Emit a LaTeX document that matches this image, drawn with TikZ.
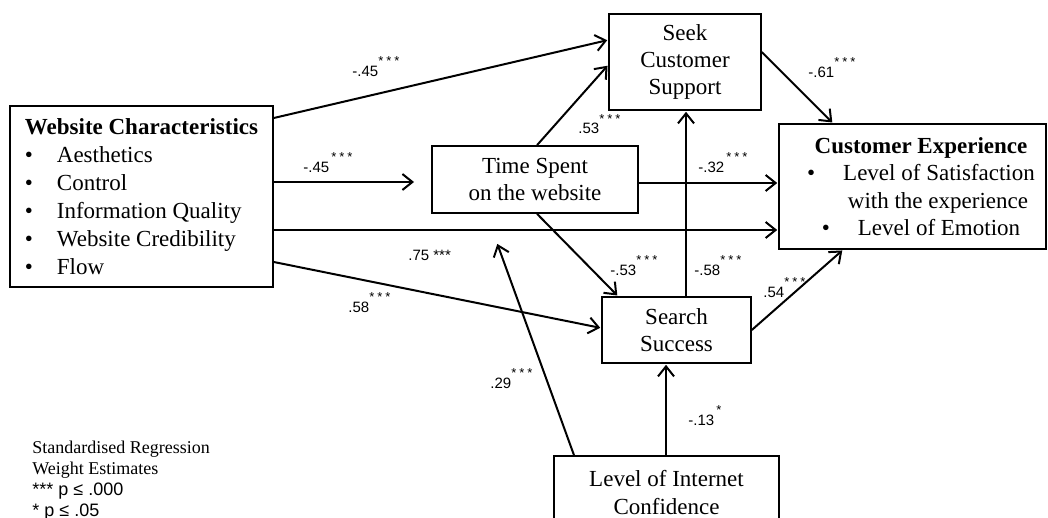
\documentclass[tikz,border=0pt]{standalone}
\usepackage{fontspec}
\setmainfont{Liberation Serif}
\setsansfont{Liberation Sans}
\usetikzlibrary{arrows.meta}
\newcommand{\wt}[3][0pt]{#2\hspace{#1}\raisebox{5.5pt}{\fontsize{6.5pt}{7pt}\selectfont #3}}
\newcommand{\stars}{*\kern1.5pt*\kern1.5pt*}
\begin{document}
\begin{tikzpicture}[x=0.5pt, y=-0.5pt, >={Straight Barb[length=5pt,width=8pt]}]

\tikzstyle{box}=[rectangle, draw, line width=0.8pt, align=center, inner sep=0pt, font=\fontsize{11.5pt}{13.7pt}\selectfont]
\tikzstyle{arrow}=[->, line width=1pt, shorten >=0.5pt]
\tikzstyle{wlab}=[anchor=base west, inner sep=0pt, font=\fontsize{7.5pt}{9pt}\sffamily]

\useasboundingbox (0,0) rectangle (1048,518);

\node (WC) [box, minimum width=131.5pt, minimum height=90.5pt, align=left, font=\fontsize{11.5pt}{14pt}\selectfont] at (141.5,196.5)
{\textbf{Website Characteristics}\\
\makebox[16pt][l]{\textbullet}Aesthetics\\
\makebox[16pt][l]{\textbullet}Control\\
\makebox[16pt][l]{\textbullet}Information Quality\\
\makebox[16pt][l]{\textbullet}Website Credibility\\
\makebox[16pt][l]{\textbullet}Flow};

\node (SCS) [box, minimum width=76pt, minimum height=48pt] at (685,62) {Seek\\Customer\\Support};

\node (CE) [box, minimum width=133.5pt, minimum height=62.5pt] at (912.5,186.5)
{\hspace*{8.5pt}\textbf{Customer Experience}\\
\hspace*{8.5pt}\textbullet\hspace{14pt}Level of Satisfaction\\
\hspace*{25.5pt}with the experience\\
\hspace*{8.5pt}\textbullet\hspace{14pt}Level of Emotion};

\node (TS) [box, minimum width=103pt, minimum height=33.5pt] at (535,179.5) {Time Spent\\on the website};
\node (SS) [box, minimum width=74.5pt, minimum height=33pt] at (676.5,330) {Search\\Success};
\node (IC) [box, minimum width=112.5pt, minimum height=36.5pt] at (666.5,492.5) {Level of Internet\\Confidence};

\coordinate (tsin) at (415,182);
\coordinate (icto) at (497,243);

\draw [arrow] (WC.east |- 0,118) -- (SCS.west |- 0,40);
\draw [arrow] (WC.east |- 0,182) -- (tsin);
\draw [arrow] (TS.north -| 537,0) -- (SCS.west |- 0,65);
\draw [arrow] (SCS.east |- 0,52) -- (CE.north -| 833,0);
\draw [arrow] (TS.east |- 0,183) -- (CE.west |- 0,183);
\draw [arrow] (WC.east |- 0,230) -- (CE.west |- 0,230);
\draw [arrow] (TS.south -| 537,0) -- (SS.north -| 618,0);
\draw [arrow] (SS.north -| 686,0) -- (SCS.south -| 686,0);
\draw [arrow] (WC.east |- 0,262) -- (SS.west |- 0,328);
\draw [arrow] (SS.east |- 0,330) -- (CE.south -| 843,0);
\draw [arrow] (IC.north -| 574,0) -- (icto);
\draw [arrow] (IC.north -| 666,0) -- (SS.south -| 666,0);

\node (w1) [wlab] at (352,77) {\wt{-.45}{\stars}};
\node (w2) [wlab] at (303,173) {\wt[1pt]{-.45}{\stars}};
\node (w3) [wlab] at (578,134) {\wt{.53}{\stars}};
\node (w4) [wlab] at (808,78) {\wt{-.61}{\stars}};
\node (w5) [wlab] at (698,173) {\wt[1pt]{-.32}{\stars}};
\node (w6) [wlab] at (408,260) {.75 ***};
\node (w7) [wlab] at (610,275) {\wt{-.53}{\stars}};
\node (w8) [wlab] at (694,275) {\wt{-.58}{\stars}};
\node (w9) [wlab] at (348,312) {\wt{.58}{\stars}};
\node (w10) [wlab] at (763,297) {\wt{.54}{\stars}};
\node (w11) [wlab] at (490,388) {\wt{.29}{\stars}};
\node (w12) [wlab] at (688,425) {\wt[1pt]{-.13}{*}};

\node (key) [anchor=north west, align=left, inner sep=0pt, font=\fontsize{9pt}{10.5pt}\selectfont] at (32,441)
{Standardised Regression\\Weight Estimates\\{\sffamily *** p ≤ .000}\\{\sffamily * p ≤ .05}};

\end{tikzpicture}
\end{document}
